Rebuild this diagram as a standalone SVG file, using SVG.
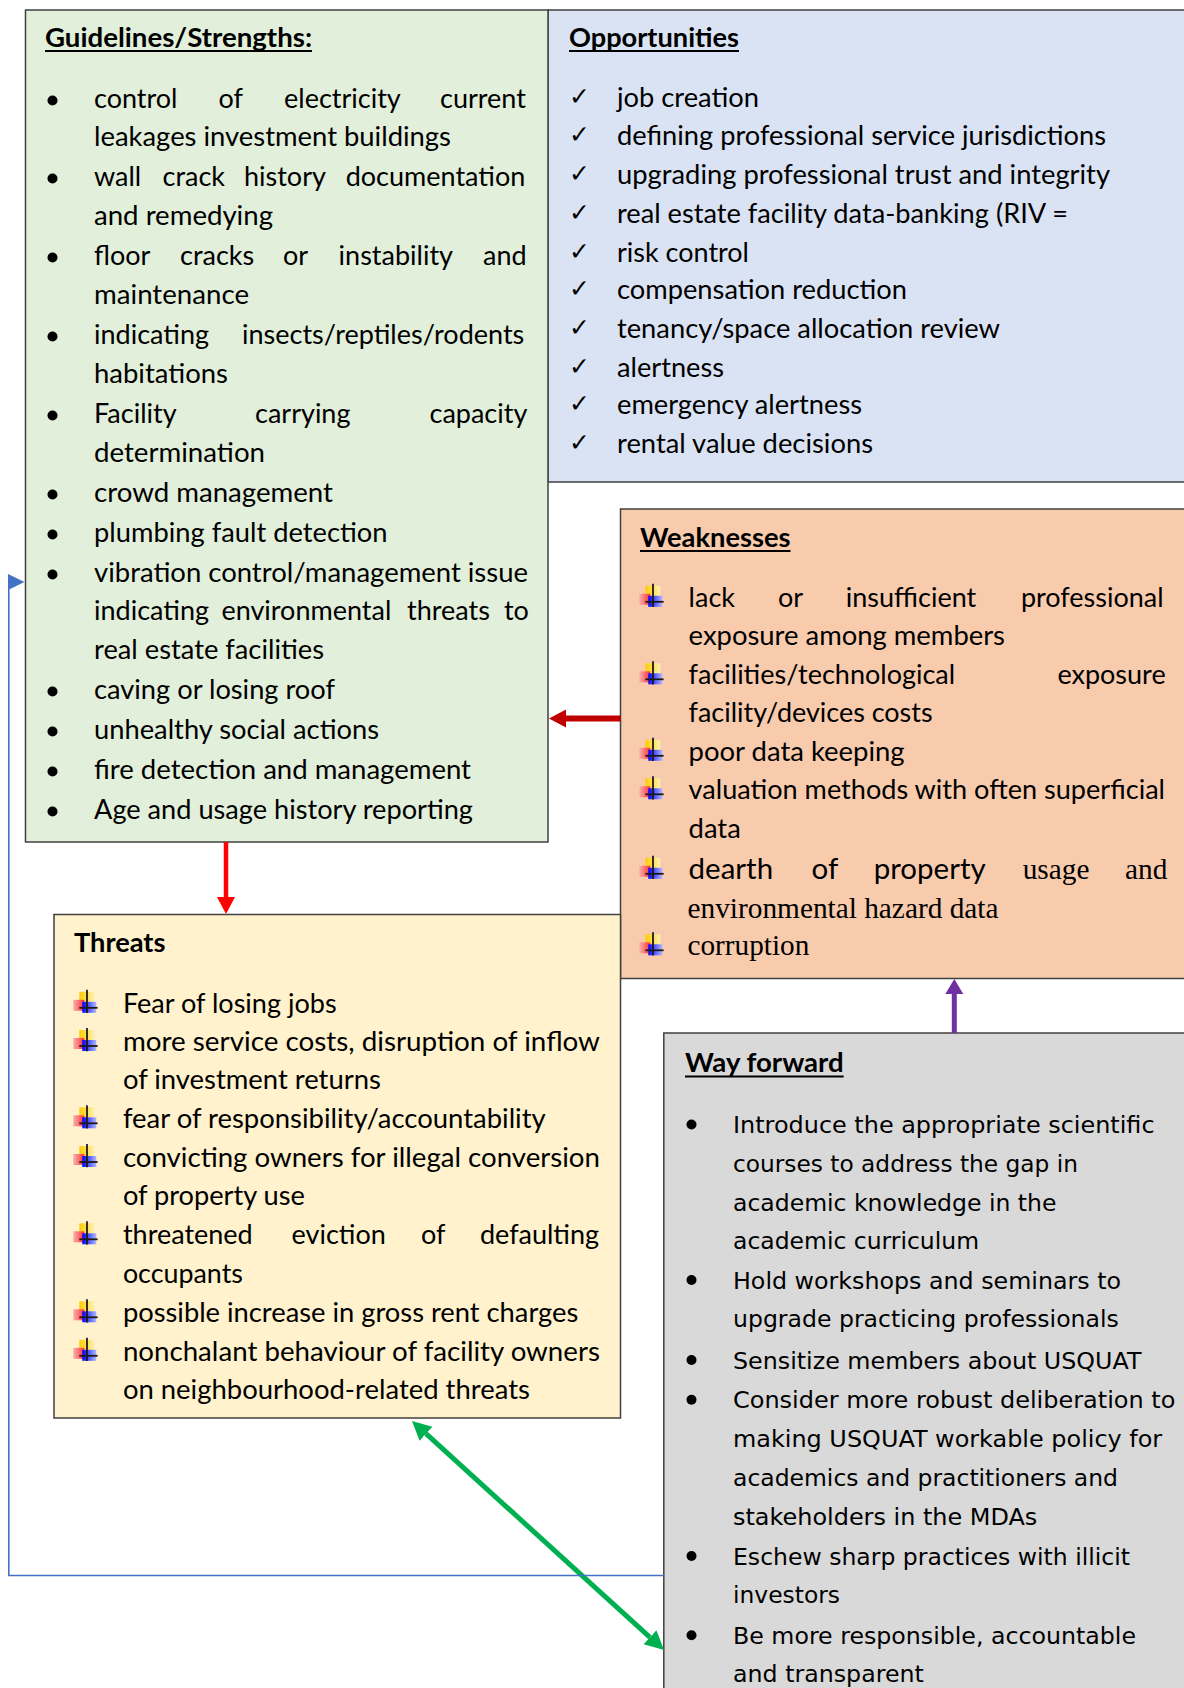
<svg xmlns="http://www.w3.org/2000/svg" width="1184" height="1688" viewBox="0 0 1184 1688">
<style>
.t{font-family:Lato,"Liberation Sans",sans-serif;font-size:27px;fill:#000}
.h{font-family:Lato,"Liberation Sans",sans-serif;font-size:27px;font-weight:700;fill:#000}
.s{font-family:"Liberation Serif","Times New Roman",serif;font-size:29.3px;fill:#000}
.w{font-family:"DejaVu Sans",Verdana,sans-serif;font-size:23.5px;fill:#000}
.ck{font-family:"DejaVu Sans",sans-serif;font-size:25px;fill:#000}
.box{stroke:#404040;stroke-width:1.5}
.ul{stroke:#000;stroke-width:2.2}
.dot{fill:#000}
</style>
<defs>
<linearGradient id="gy" x1="0" y1="0" x2="1" y2="0"><stop offset="0" stop-color="#FFCC00"/><stop offset="1" stop-color="#FFF0B0"/></linearGradient>
<linearGradient id="gr" x1="0" y1="0" x2="1" y2="0"><stop offset="0" stop-color="#F8B0B0"/><stop offset="1" stop-color="#FF3030"/></linearGradient>
<linearGradient id="gb" x1="0" y1="0" x2="1" y2="0"><stop offset="0" stop-color="#0000FF"/><stop offset="1" stop-color="#B0B8FF"/></linearGradient>
<g id="plus">
<rect x="-7.7" y="-16" width="15" height="10" fill="url(#gy)"/>
<rect x="-13.7" y="-8" width="11" height="11" fill="url(#gr)"/>
<rect x="-4.7" y="-6" width="14" height="11" fill="url(#gb)"/>
<line x1="0" y1="-18" x2="0" y2="5.3" stroke="#1a1a1a" stroke-width="1.8"/>
<line x1="-7.7" y1="0" x2="10.6" y2="0" stroke="#1a1a1a" stroke-width="1.8"/>
</g>
<marker id="mDR" markerUnits="userSpaceOnUse" markerWidth="18" markerHeight="20" viewBox="0 -10 18 20" refX="0" refY="0" orient="auto"><path d="M0,-9 L17,0 L0,9 z" fill="#C00000"/></marker>
<marker id="mR" markerUnits="userSpaceOnUse" markerWidth="18" markerHeight="20" viewBox="0 -10 18 20" refX="0" refY="0" orient="auto"><path d="M0,-9 L17,0 L0,9 z" fill="#FF0000"/></marker>
<marker id="mP" markerUnits="userSpaceOnUse" markerWidth="18" markerHeight="20" viewBox="0 -10 18 20" refX="0" refY="0" orient="auto"><path d="M0,-9 L15,0 L0,9 z" fill="#7030A0"/></marker>
<marker id="mG" markerUnits="userSpaceOnUse" markerWidth="22" markerHeight="22" viewBox="0 -11 22 22" refX="0" refY="0" orient="auto-start-reverse"><path d="M0,-9.5 L19,0 L0,9.5 z" fill="#00B050"/></marker>
</defs>
<rect width="1184" height="1688" fill="#fff"/>

<g id="opportunities">
<rect class="box" x="548" y="10" width="642" height="472" fill="#DAE3F3"/>
<text class="h" x="569" y="46.7" textLength="170" lengthAdjust="spacingAndGlyphs">Opportunities</text>
<line class="ul" x1="569" y1="51" x2="739" y2="51"/>
<g class="ck">
<text x="569" y="104.7">✓</text><text x="569" y="143.3">✓</text><text x="569" y="182">✓</text><text x="569" y="220.8">✓</text><text x="569" y="259.5">✓</text><text x="569" y="297">✓</text><text x="569" y="335.5">✓</text><text x="569" y="374.5">✓</text><text x="569" y="412">✓</text><text x="569" y="450.5">✓</text>
</g>
<text class="t" x="617" y="106.7" textLength="142" lengthAdjust="spacingAndGlyphs">job creation</text>
<text class="t" x="617" y="145.3" textLength="489" lengthAdjust="spacingAndGlyphs">defining professional service jurisdictions</text>
<text class="t" x="617" y="184" textLength="493" lengthAdjust="spacingAndGlyphs">upgrading professional trust and integrity</text>
<text class="t" x="617" y="222.8" textLength="451" lengthAdjust="spacingAndGlyphs">real estate facility data-banking (RIV =</text>
<text class="t" x="617" y="261.5" textLength="132" lengthAdjust="spacingAndGlyphs">risk control</text>
<text class="t" x="617" y="299" textLength="290" lengthAdjust="spacingAndGlyphs">compensation reduction</text>
<text class="t" x="617" y="337.5" textLength="383" lengthAdjust="spacingAndGlyphs">tenancy/space allocation review</text>
<text class="t" x="617" y="376.5" textLength="107" lengthAdjust="spacingAndGlyphs">alertness</text>
<text class="t" x="617" y="414" textLength="245" lengthAdjust="spacingAndGlyphs">emergency alertness</text>
<text class="t" x="617" y="452.5" textLength="256" lengthAdjust="spacingAndGlyphs">rental value decisions</text>
</g>

<g id="strengths">
<rect class="box" x="25.5" y="10" width="522.5" height="832" fill="#E2EFDA"/>
<text class="h" x="45" y="46.7" textLength="267" lengthAdjust="spacingAndGlyphs">Guidelines/Strengths:</text>
<line class="ul" x1="45" y1="51" x2="312" y2="51"/>
<g class="dot">
<circle cx="52.5" cy="100.5" r="5"/><circle cx="52.5" cy="178.5" r="5"/><circle cx="52.5" cy="257.5" r="5"/><circle cx="52.5" cy="336.5" r="5"/><circle cx="52.5" cy="415.5" r="5"/><circle cx="52.5" cy="494.5" r="5"/><circle cx="52.5" cy="534.5" r="5"/><circle cx="52.5" cy="574.5" r="5"/><circle cx="52.5" cy="691.5" r="5"/><circle cx="52.5" cy="731.5" r="5"/><circle cx="52.5" cy="771.5" r="5"/><circle cx="52.5" cy="811.5" r="5"/>
</g>
<text class="t" y="108"><tspan x="94">control</tspan><tspan x="218.5">of</tspan><tspan x="284">electricity</tspan><tspan x="440">current</tspan></text>
<text class="t" x="94" y="146" textLength="357" lengthAdjust="spacingAndGlyphs">leakages investment buildings</text>
<text class="t" y="186"><tspan x="94">wall</tspan><tspan x="162.5">crack</tspan><tspan x="244">history</tspan><tspan x="345.7">documentation</tspan></text>
<text class="t" x="94" y="225" textLength="179" lengthAdjust="spacingAndGlyphs">and remedying</text>
<text class="t" y="265"><tspan x="94">floor</tspan><tspan x="180">cracks</tspan><tspan x="283">or</tspan><tspan x="338.6">instability</tspan><tspan x="483">and</tspan></text>
<text class="t" x="94" y="304" textLength="155" lengthAdjust="spacingAndGlyphs">maintenance</text>
<text class="t" y="344"><tspan x="94">indicating</tspan><tspan x="242">insects/reptiles/rodents</tspan></text>
<text class="t" x="94" y="383" textLength="134" lengthAdjust="spacingAndGlyphs">habitations</text>
<text class="t" y="423"><tspan x="94">Facility</tspan><tspan x="255">carrying</tspan><tspan x="429.5">capacity</tspan></text>
<text class="t" x="94" y="462" textLength="171" lengthAdjust="spacingAndGlyphs">determination</text>
<text class="t" x="94" y="502" textLength="239" lengthAdjust="spacingAndGlyphs">crowd management</text>
<text class="t" x="94" y="542" textLength="293.5" lengthAdjust="spacingAndGlyphs">plumbing fault detection</text>
<text class="t" x="94" y="582" textLength="434" lengthAdjust="spacingAndGlyphs">vibration control/management issue</text>
<text class="t" y="620"><tspan x="94">indicating</tspan><tspan x="221.4">environmental</tspan><tspan x="407">threats</tspan><tspan x="504">to</tspan></text>
<text class="t" x="94" y="659" textLength="230" lengthAdjust="spacingAndGlyphs">real estate facilities</text>
<text class="t" x="94" y="699" textLength="241" lengthAdjust="spacingAndGlyphs">caving or losing roof</text>
<text class="t" x="94" y="739" textLength="285" lengthAdjust="spacingAndGlyphs">unhealthy social actions</text>
<text class="t" x="94" y="779" textLength="377" lengthAdjust="spacingAndGlyphs">fire detection and management</text>
<text class="t" x="94" y="819" textLength="379" lengthAdjust="spacingAndGlyphs">Age and usage history reporting</text>
</g>

<g id="weaknesses">
<rect class="box" x="620.5" y="509" width="570" height="469.5" fill="#F8CBAD"/>
<text class="h" x="640" y="546.7" textLength="150.5" lengthAdjust="spacingAndGlyphs">Weaknesses</text>
<line class="ul" x1="640" y1="551" x2="790.5" y2="551"/>
<use href="#plus" x="653" y="601.8"/>
<use href="#plus" x="653" y="679.3"/>
<use href="#plus" x="653" y="755.8"/>
<use href="#plus" x="653" y="794.3"/>
<use href="#plus" x="653" y="873.8"/>
<use href="#plus" x="653" y="950.3"/>
<text class="t" y="606.5"><tspan x="688.6">lack</tspan><tspan x="778">or</tspan><tspan x="845.8">insufficient</tspan><tspan x="1020.9">professional</tspan></text>
<text class="t" x="688.6" y="645" textLength="316.4" lengthAdjust="spacingAndGlyphs">exposure among members</text>
<text class="t" y="684"><tspan x="688.6">facilities/technological</tspan><tspan x="1057.4">exposure</tspan></text>
<text class="t" x="688.6" y="722" textLength="244" lengthAdjust="spacingAndGlyphs">facility/devices costs</text>
<text class="t" x="688.6" y="760.5" textLength="216" lengthAdjust="spacingAndGlyphs">poor data keeping</text>
<text class="t" x="688.6" y="799" textLength="476.4" lengthAdjust="spacingAndGlyphs">valuation methods with often superficial</text>
<text class="t" x="688.6" y="837.6" textLength="52.2" lengthAdjust="spacingAndGlyphs">data</text>
<text class="t" y="878.5" style="font-size:29.5px"><tspan x="688.6">dearth</tspan><tspan x="811.5">of</tspan><tspan x="873.7">property</tspan></text>
<text class="s" y="878.5"><tspan x="1022.7">usage</tspan><tspan x="1125">and</tspan></text>
<text class="s" x="687.5" y="918" textLength="311" lengthAdjust="spacingAndGlyphs">environmental hazard data</text>
<text class="s" x="687.5" y="955" textLength="121.8" lengthAdjust="spacingAndGlyphs">corruption</text>
</g>

<g id="threats">
<rect class="box" x="54" y="914.5" width="566.5" height="503.5" fill="#FFF2CC"/>
<text class="h" x="74" y="952" textLength="91.4" lengthAdjust="spacingAndGlyphs">Threats</text>
<use href="#plus" x="87" y="1007.8"/>
<use href="#plus" x="87" y="1046"/>
<use href="#plus" x="87" y="1123.3"/>
<use href="#plus" x="87" y="1162"/>
<use href="#plus" x="87" y="1239.3"/>
<use href="#plus" x="87" y="1317.3"/>
<use href="#plus" x="87" y="1355.8"/>
<text class="t" x="122.9" y="1012.5" textLength="213.8" lengthAdjust="spacingAndGlyphs">Fear of losing jobs</text>
<text class="t" x="122.9" y="1050.7" textLength="477" lengthAdjust="spacingAndGlyphs">more service costs, disruption of inflow</text>
<text class="t" x="122.9" y="1089" textLength="258" lengthAdjust="spacingAndGlyphs">of investment returns</text>
<text class="t" x="122.9" y="1128" textLength="422.8" lengthAdjust="spacingAndGlyphs">fear of responsibility/accountability</text>
<text class="t" x="122.9" y="1166.7" textLength="477" lengthAdjust="spacingAndGlyphs">convicting owners for illegal conversion</text>
<text class="t" x="122.9" y="1205.3" textLength="182" lengthAdjust="spacingAndGlyphs">of property use</text>
<text class="t" y="1244"><tspan x="122.9">threatened</tspan><tspan x="291.6">eviction</tspan><tspan x="421">of</tspan><tspan x="479.9">defaulting</tspan></text>
<text class="t" x="122.9" y="1283" textLength="120" lengthAdjust="spacingAndGlyphs">occupants</text>
<text class="t" x="122.9" y="1322" textLength="455.4" lengthAdjust="spacingAndGlyphs">possible increase in gross rent charges</text>
<text class="t" x="122.9" y="1360.5" textLength="477" lengthAdjust="spacingAndGlyphs">nonchalant behaviour of facility owners</text>
<text class="t" x="122.9" y="1399" textLength="407" lengthAdjust="spacingAndGlyphs">on neighbourhood-related threats</text>
</g>

<g id="way-forward">
<rect class="box" x="663.8" y="1033" width="530" height="670" fill="#D9D9D9"/>
<text class="h" x="685" y="1072" textLength="158.7" lengthAdjust="spacingAndGlyphs">Way forward</text>
<line class="ul" x1="685" y1="1076.5" x2="843.7" y2="1076.5"/>
<g class="dot">
<circle cx="691.5" cy="1124.5" r="5"/><circle cx="691.5" cy="1280" r="5"/><circle cx="691.5" cy="1360" r="5"/><circle cx="691.5" cy="1399.8" r="5"/><circle cx="691.5" cy="1556" r="5"/><circle cx="691.5" cy="1635.2" r="5"/>
</g>
<text class="w" x="733" y="1133" textLength="421.6" lengthAdjust="spacingAndGlyphs">Introduce the appropriate scientific</text>
<text class="w" x="733" y="1171.5" textLength="345" lengthAdjust="spacingAndGlyphs">courses to address the gap in</text>
<text class="w" x="733" y="1210.5" textLength="323.4" lengthAdjust="spacingAndGlyphs">academic knowledge in the</text>
<text class="w" x="733" y="1249" textLength="246" lengthAdjust="spacingAndGlyphs">academic curriculum</text>
<text class="w" x="733" y="1288.5" textLength="388" lengthAdjust="spacingAndGlyphs">Hold workshops and seminars to</text>
<text class="w" x="733" y="1327.3" textLength="385.8" lengthAdjust="spacingAndGlyphs">upgrade practicing professionals</text>
<text class="w" x="733" y="1368.5" textLength="408.4" lengthAdjust="spacingAndGlyphs">Sensitize members about USQUAT</text>
<text class="w" x="733" y="1408.3" textLength="442.4" lengthAdjust="spacingAndGlyphs">Consider more robust deliberation to</text>
<text class="w" x="733" y="1447" textLength="429.2" lengthAdjust="spacingAndGlyphs">making USQUAT workable policy for</text>
<text class="w" x="733" y="1486" textLength="385" lengthAdjust="spacingAndGlyphs">academics and practitioners and</text>
<text class="w" x="733" y="1524.5" textLength="304.3" lengthAdjust="spacingAndGlyphs">stakeholders in the MDAs</text>
<text class="w" x="733" y="1564.5" textLength="397" lengthAdjust="spacingAndGlyphs">Eschew sharp practices with illicit</text>
<text class="w" x="733" y="1603" textLength="107" lengthAdjust="spacingAndGlyphs">investors</text>
<text class="w" x="733" y="1643.7" textLength="403" lengthAdjust="spacingAndGlyphs">Be more responsible, accountable</text>
<text class="w" x="733" y="1681.7" textLength="190.8" lengthAdjust="spacingAndGlyphs">and transparent</text>
</g>

<g id="connectors" fill="none">
<line x1="620.5" y1="718.5" x2="566" y2="718.5" stroke="#C00000" stroke-width="6" marker-end="url(#mDR)"/>
<line x1="226" y1="842" x2="226" y2="897" stroke="#FF0000" stroke-width="4.5" marker-end="url(#mR)"/>
<line x1="954.3" y1="1033" x2="954.3" y2="994" stroke="#7030A0" stroke-width="5" marker-end="url(#mP)"/>
<line x1="426" y1="1433.7" x2="650" y2="1637.3" stroke="#00B050" stroke-width="5" marker-start="url(#mG)" marker-end="url(#mG)"/>
<polyline points="663.8,1575.5 8.8,1575.5 8.8,582" stroke="#4472C4" stroke-width="1.6"/>
<path d="M8,574 L24.5,582 L8,590 z" fill="#4472C4"/>
</g>
</svg>
